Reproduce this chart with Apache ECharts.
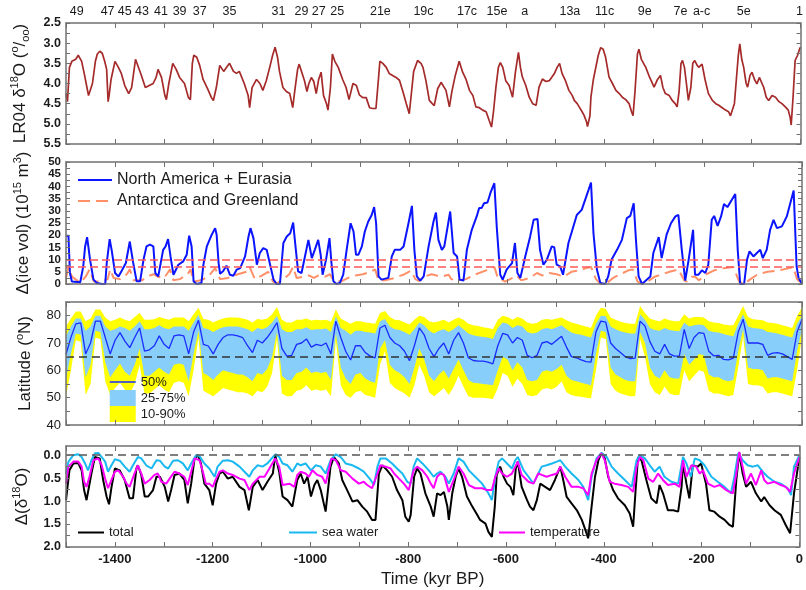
<!DOCTYPE html>
<html><head><meta charset="utf-8">
<script src="https://cdn.jsdelivr.net/npm/echarts@6/dist/echarts.min.js"></script>
<style>html,body{margin:0;padding:0;background:#fff}#c{width:806px;height:590px}</style>
</head><body><div id="c"></div>
<script>
// ---------- DATA ----------
// Marine isotope stage labels on the top axis, and their times (kyr, negative = BP)
const misLabels = ['49','47','45','43','41','39','37','35','31','29','27','25','21e','19c','17c','15e','a','13a','11c','9e','7e','a-c','5e','1'];
const misTimes  = [-1478,-1415,-1380,-1345,-1306,-1268,-1227,-1166,-1066,-1019,-984,-946,-858,-770,-681,-620,-563,-471,-400,-318,-245,-202,-116,-2];

// Panel 1: LR04 benthic d18O stack [time, permil]
const lr04 = [[-1500,4.25],[-1497,4.45],[-1493,3.6],[-1488,3.45],[-1480,3.4],[-1475,3.3],[-1468,3.45],[-1462,3.8],[-1458,4.05],[-1454,4.3],[-1450,4.3],[-1446,4.0],[-1440,3.45],[-1436,3.27],[-1431,3.2],[-1426,3.25],[-1421,3.45],[-1417,3.65],[-1414,4.45],[-1412,4.3],[-1408,3.9],[-1400,3.45],[-1393,3.6],[-1387,3.75],[-1380,4.05],[-1372,4.25],[-1366,4.1],[-1358,3.4],[-1354,3.4],[-1346,3.8],[-1338,4.1],[-1330,4.05],[-1322,4.0],[-1316,3.85],[-1312,3.65],[-1305,3.85],[-1298,4.3],[-1295,4.4],[-1290,4.0],[-1282,3.5],[-1275,3.65],[-1268,3.85],[-1258,4.0],[-1250,4.35],[-1246,4.4],[-1242,3.5],[-1239,3.3],[-1233,3.35],[-1227,3.55],[-1220,3.9],[-1210,4.15],[-1203,4.35],[-1199,4.42],[-1193,4.1],[-1186,3.55],[-1178,3.7],[-1172,3.6],[-1166,3.5],[-1158,3.7],[-1152,3.75],[-1146,3.7],[-1136,4.0],[-1128,4.3],[-1125,4.6],[-1120,4.1],[-1111,3.9],[-1104,4.0],[-1098,4.17],[-1091,3.93],[-1084,3.6],[-1078,3.3],[-1073,3.1],[-1068,3.35],[-1064,3.7],[-1057,4.1],[-1050,4.2],[-1043,4.25],[-1037,4.6],[-1032,4.1],[-1027,3.65],[-1024,3.52],[-1019,3.7],[-1013,3.93],[-1008,4.2],[-1004,4.0],[-999,3.85],[-994,3.95],[-989,4.25],[-984,3.9],[-979,3.72],[-974,4.3],[-968,4.5],[-965,4.66],[-960,4.1],[-956,3.27],[-951,3.45],[-944,3.6],[-935,3.9],[-928,4.1],[-922,4.4],[-914,4.0],[-907,4.05],[-901,4.28],[-894,4.35],[-887,4.35],[-880,4.6],[-874,4.62],[-867,4.62],[-862,3.9],[-859,3.45],[-853,3.5],[-846,3.6],[-840,3.75],[-833,3.8],[-826,3.85],[-819,3.92],[-812,4.2],[-805,4.5],[-799,4.75],[-795,4.79],[-790,3.7],[-782,3.43],[-775,3.5],[-771,3.6],[-765,3.93],[-758,4.42],[-752,4.5],[-748,4.55],[-741,4.13],[-734,3.97],[-731,3.93],[-724,4.17],[-717,4.58],[-712,4.2],[-705,3.8],[-697,3.45],[-690,3.72],[-683,3.9],[-676,4.17],[-669,4.3],[-663,4.58],[-656,4.6],[-649,4.66],[-642,4.7],[-636,4.91],[-631,5.08],[-627,4.7],[-622,4.09],[-617,3.6],[-613,3.48],[-608,3.6],[-602,3.93],[-595,4.05],[-588,4.34],[-582,3.7],[-576,3.23],[-572,3.6],[-568,3.84],[-561,4.05],[-554,4.34],[-547,4.5],[-540,4.54],[-534,4.09],[-527,3.89],[-520,3.95],[-513,3.93],[-503,3.76],[-497,3.6],[-492,3.5],[-487,3.75],[-480,3.93],[-473,4.17],[-466,4.3],[-462,4.42],[-456,4.5],[-452,4.58],[-446,4.7],[-442,4.79],[-437,4.95],[-435,5.07],[-430,4.8],[-428,4.34],[-423,3.9],[-418,3.6],[-413,3.3],[-408,3.11],[-403,3.15],[-398,3.35],[-391,3.84],[-384,4.0],[-377,4.17],[-370,4.25],[-364,4.34],[-357,4.4],[-350,4.5],[-345,4.7],[-342,4.8],[-338,4.2],[-333,3.27],[-330,3.15],[-325,3.4],[-316,3.6],[-308,3.85],[-299,4.09],[-292,3.9],[-286,3.8],[-281,4.1],[-276,4.25],[-268,4.3],[-262,4.42],[-256,4.5],[-252,4.58],[-248,4.2],[-244,3.5],[-241,3.43],[-237,3.6],[-233,4.0],[-229,4.42],[-224,4.1],[-220,3.5],[-216,3.43],[-211,3.55],[-208,3.6],[-201,3.52],[-195,3.9],[-188,4.25],[-180,4.42],[-173,4.5],[-167,4.54],[-160,4.6],[-153,4.66],[-147,4.7],[-143,4.8],[-140,4.83],[-135,4.5],[-131,3.9],[-127,3.3],[-124,3.02],[-120,3.4],[-116,3.6],[-111,4.0],[-108,4.09],[-103,3.8],[-99,3.72],[-94,3.9],[-89,4.01],[-84,3.85],[-80,3.85],[-75,4.1],[-70,4.34],[-65,4.42],[-58,4.3],[-51,4.34],[-44,4.45],[-38,4.5],[-31,4.58],[-25,4.66],[-21,4.85],[-19,5.03],[-15,4.3],[-11,3.43],[-6,3.3],[-2,3.15],[0,3.1]];

// Panel 2: ice volume anomalies (10^15 m^3) [time, value]
const iceNAEU = [[-1500,19.8],[-1495,19.8],[-1492,4.5],[-1488,1],[-1471,0.7],[-1467,0],[-1465,7],[-1461,15.4],[-1457,19.2],[-1451,10],[-1444,1.8],[-1437,0.4],[-1427,0],[-1420,0],[-1417,8.6],[-1411,18.4],[-1407,14],[-1400,4.5],[-1393,3.1],[-1387,5.2],[-1378,8.6],[-1370,17.4],[-1367,17],[-1363,8.6],[-1356,1.1],[-1349,1.1],[-1342,10],[-1336,15.4],[-1329,16.1],[-1322,15.4],[-1318,4.5],[-1312,3.1],[-1302,14],[-1297,15.4],[-1292,18.4],[-1287,11.3],[-1281,3.8],[-1271,7.9],[-1261,9.3],[-1254,12],[-1249,19.8],[-1244,15.4],[-1240,1.1],[-1234,0],[-1224,0.4],[-1220,7.9],[-1213,15.4],[-1203,20.2],[-1196,22.9],[-1193,20.2],[-1189,8.6],[-1186,4.2],[-1180,5.2],[-1173,7.5],[-1166,3.8],[-1159,3.4],[-1152,5.9],[-1145,6.5],[-1135,11.3],[-1128,19.5],[-1124,22.9],[-1118,18.8],[-1111,7.9],[-1105,12.7],[-1098,14.7],[-1091,14],[-1084,7.9],[-1077,1.8],[-1071,0],[-1064,0],[-1057,16.8],[-1050,19.5],[-1043,20.8],[-1037,25.2],[-1034,18.8],[-1027,5.2],[-1020,4.5],[-1013,11.3],[-1006,18.1],[-999,10.6],[-993,14],[-986,18.1],[-981,12],[-977,3.8],[-970,10],[-963,18.8],[-959,8.6],[-955,1.1],[-949,0],[-942,0.4],[-935,3.8],[-928,14],[-920,24.9],[-914,21.5],[-909,12],[-904,12],[-897,15.4],[-891,21.5],[-884,25.6],[-877,28.3],[-872,31.5],[-868,25],[-863,3.1],[-857,1.8],[-843,2.5],[-836,11.3],[-830,14],[-819,14],[-812,15.4],[-802,24.9],[-795,32],[-790,14],[-785,3.1],[-778,1.4],[-771,3.1],[-761,15.4],[-751,25.6],[-746,29.3],[-741,18.1],[-734,14],[-729,15.4],[-717,29.7],[-710,12.7],[-703,11.3],[-698,1.8],[-690,1.4],[-683,14],[-673,22.2],[-663,27.7],[-658,31.1],[-653,31.1],[-648,33.1],[-641,33.4],[-634,37.9],[-627,41.3],[-622,23],[-615,3.8],[-610,1.8],[-602,5.9],[-591,8.6],[-585,16.8],[-580,4.5],[-574,2.5],[-564,11.3],[-554,19.5],[-547,26.3],[-539,26.6],[-534,14],[-527,7.9],[-520,10],[-510,15.4],[-505,15.1],[-500,7.9],[-493,7.2],[-487,3.8],[-483,4.5],[-476,16.8],[-469,21.5],[-459,28.3],[-449,30.4],[-442,34.5],[-435,38.6],[-430,41.6],[-425,20.8],[-418,5.9],[-411,0.4],[-401,0],[-395,3.1],[-388,10],[-377,14],[-367,18.1],[-357,27],[-350,27.9],[-343,33.1],[-338,16.8],[-333,3.1],[-326,0],[-316,1.8],[-309,3.1],[-303,12.7],[-292,19.2],[-286,10.6],[-276,20.2],[-267,24.9],[-258,27.7],[-252,28.3],[-245,14],[-238,1.4],[-231,10],[-222,22.2],[-218,3.8],[-211,3.8],[-204,5.6],[-197,4.5],[-191,7.9],[-184,26.3],[-179,27.9],[-172,23.8],[-165,27.7],[-159,32.8],[-152,31.5],[-143,34.5],[-136,36.9],[-131,14],[-126,0],[-118,0],[-112,10],[-107,13.4],[-99,11.3],[-92,12.7],[-85,14],[-80,10.6],[-72,14],[-65,22.2],[-58,26.3],[-51,22.9],[-41,23.6],[-31,27.7],[-17,38.3],[-11,7.2],[-7,2.5],[0,0]];
const iceAISGrIS = [[-1500,2.5],[-1495,7],[-1488,3],[-1471,0.5],[-1460,3],[-1452,6],[-1443,1],[-1428,1],[-1415,2],[-1410,6],[-1403,2.5],[-1390,2],[-1376,4],[-1370,6],[-1362,1.5],[-1345,1.5],[-1335,3],[-1322,4],[-1313,3],[-1300,2.5],[-1293,4.5],[-1288,6],[-1281,1.5],[-1268,2],[-1252,4],[-1246,6],[-1240,1],[-1225,1.5],[-1210,3],[-1196,6.5],[-1186,2],[-1170,2.5],[-1150,4],[-1132,5],[-1126,7],[-1115,2],[-1100,3.5],[-1088,5],[-1078,1],[-1070,0.3],[-1060,1.5],[-1045,4],[-1037,7],[-1030,2.5],[-1015,3],[-1005,3.5],[-995,2.5],[-985,3.5],[-972,3],[-962,4],[-955,1.5],[-940,1],[-925,2.5],[-910,3.5],[-895,4],[-880,5],[-870,6],[-863,1.5],[-850,1.5],[-830,2.5],[-810,4],[-797,5.5],[-788,2],[-780,1.2],[-770,3],[-755,4],[-745,3.5],[-735,3],[-720,3.8],[-715,2],[-700,1.5],[-685,2],[-665,4],[-645,5.5],[-627,7],[-620,2.5],[-605,1],[-590,2.5],[-582,3.5],[-572,1.5],[-555,2.5],[-540,4.5],[-530,3.5],[-515,4.5],[-500,4],[-485,3],[-470,5],[-455,5.5],[-440,6.5],[-430,7],[-420,2],[-410,0],[-400,0],[-385,2.5],[-370,4],[-355,5.5],[-345,6],[-335,1],[-325,0],[-315,1],[-300,3],[-285,4],[-270,5],[-252,6],[-240,1.5],[-235,1],[-225,3],[-218,3],[-210,1.5],[-195,4],[-180,5.5],[-160,6.5],[-140,7],[-128,1],[-118,0],[-105,2],[-90,4],[-70,5],[-50,5.5],[-25,6.5],[-18,7],[-10,2],[0,0]];
const iceRefLines = [10, 7];

// Panel 3: latitude percentiles (deg N) on a 10-kyr grid from -1500 to 0
const latP50 = [65.9,72,77,77.4,66,70,78,78,72,66, 71,73.8,70.7,68.3,72,75.5,67,67.5,69,72.6, 69.5,68,72.6,73,72.6,66,74,78.3,69.5,68.9, 66,69.5,72,73,73,72.6,72,69,66.5,71, 70,72,74.5,77.5,68,65.2,65.5,69.5,70,71.5, 68.5,69.5,69,70,66,78,72,67,63.8,69, 69,66.5,65.2,64.6,75.5,76.5,72,70,69,67, 63.5,69,75.5,73,68,65,68,70,66,71, 73.8,70,64.6,63.6,63.4,63.4,63,62.4,69,73.5, 73,70,72,71,65.5,64.6,65.5,70,70.5,69.5, 71,72.5,68.5,65,64.6,63.8,63.2,63,74,78, 77.6,70,68,66.5,65,64.3,64.5,78,76.2,70.5, 67,66,69.5,66,65.2,65.2,75,68,72,73.8, 73.5,67,65.3,65.5,64,63.8,64.5,74,78.7,70, 70,70,69.5,65.5,66.3,66.5,66,65,64,74, 78.7];
const latP90 = [76,79,81.5,81.5,78,79,82.3,82.3,79.3,78, 78.5,79.3,78.5,78,79.5,81,78.5,78.5,78.7,79.5, 79,78.5,79.3,79.3,79.3,78,80.5,82.9,78.8,78.5, 77.5,78.3,79,79.3,79.3,79.3,79,78.5,77.5,78.8, 78.5,79,80.5,83.2,78.5,77.5,77.5,78.5,78.5,79, 78.2,78.5,78.3,78.5,77.8,82.3,79,78,77,78, 78,77.5,77.3,77,81,81.7,79.5,78.5,78.3,77.5, 76.8,78.5,80,79.5,78,77.5,78,78.5,77.5,78.5, 79.3,78.5,77,76.5,76.2,75.8,75.5,75,78.5,80, 79.5,78.5,79.5,79,77.5,77,77.3,78.5,78.8,78.5, 79,79.3,78.3,77.5,77,76.5,76,75.5,80,82.9, 82.5,79.3,78.5,77.8,77.3,77,77,83.5,81,79, 78.3,78,79,78.3,78,78,80.5,79,79.5,79.5, 79.3,78,77.5,77.3,76.8,76.5,76.5,80,83.5,79.5, 78.7,78.5,78.3,77.5,77.3,77,76.5,76,75.5,80, 83];
const latP75 = [72.5,76,79,79,74.5,76,80,80,76,74.5, 75,76,75.5,74.5,76,78,75,75,75.5,76.5, 75.5,75,76,76,76,74.5,77.5,80.3,75.5,75, 74,75,75.8,76,76,76,75.6,75,74,75.5, 75,75.8,77.5,80,75,74,74,75,75,75.8, 74.8,75,75,75.3,74,79.8,75.5,74.5,73,74.5, 74.5,74,73.8,73.5,78,78.8,76,75,74.8,74, 73,75,77.5,76.5,74.5,73.5,74.5,75,74,75, 76.5,75,73.5,72.8,72.5,72.2,72,71.5,75.5,77.5, 77,75.5,76.5,76,74,73.5,73.8,75,75.5,75, 75.8,76.5,75,73.8,73.3,73,72.5,72,77,80, 79.8,76,75,74.3,73.8,73.5,73.5,80.5,78.5,75.5, 74.8,74.5,75.5,74.8,74.5,74.3,77.5,76,76.5,76.8, 76.5,74.5,74,73.8,73.3,72.8,72.5,77,80.5,76, 75.5,75.3,75,74,73.8,73.5,73,72.5,72,77, 80];
const latP25 = [57,66,73.5,73,57.5,62,74.5,74,63,57.5, 60,62.5,59.5,58,62,68,58,58,59.5,61, 59.5,58.5,62,62.5,62,56,66,74.5,59,58, 56.5,58.5,60,59.5,59,58.5,58.5,57.5,56,59, 58.5,60.5,65,74,58,56.5,56.5,59,59.5,61, 59,59.5,59,59.5,56.5,73.5,61,57,55,58.5, 59,57,56,55.5,68,71,62,60,59,57.5, 55,61,68,64,58,56,58.5,60,57,60.5, 64,60,56.5,55.5,55.3,55,54.8,54.5,60,65, 64,60,63,61,56.5,56,56.5,59.5,60,59.5, 60.5,62,58,56.5,56,55.5,55,54.5,66,74.5, 74,61,58.5,57.5,56.5,56,56,74,70,61, 58,57,60,57.5,57,57,66,62,64,66, 65.5,58.5,57.5,57.5,56.5,56,56.5,67,75,61, 60.5,60.5,60,57,57.5,57.5,57,56.5,56,67, 75];
const latP10 = [50.5,60,71,70.5,51,55,72,71.5,56,51, 53.5,55.5,53,51.5,55,62,51.5,51.5,53,54.5, 53,52,55.5,56,55.5,50.5,60,72,52.5,51.5, 50.5,52,53.5,53,52.5,52,52,51.5,50.5,52.5, 52,54,59,71.5,51.5,50.5,50.5,52.5,53,54.5, 52.5,53,52.5,53,50.5,71,54.5,51,50,52, 52.5,51,50.5,50,62,67,55.5,53.5,52.5,51.5, 50,54.5,62,58,52,50.5,52,53.5,51,54, 58,54,50.5,50,50,50,49.8,49.5,53.5,59, 58,54,57,55,51,50.5,51,53,53.5,53, 54,56,52,51,50.5,50.3,50,49.8,60,72, 71.5,55,52.5,51.5,51,50.5,50.5,71.5,65,55, 52,51,54,51.5,51,51,60,56,58,60, 59.5,52.5,51.5,51.5,51,50.5,51,61,72.5,55, 54.5,54.5,54,51.5,52,52,51.5,51,50.5,60, 72.5];
const latRefLine = 65;

// Panel 4: d18O anomalies (permil) [time, value]
const d18Total = [[-1500,0.98],[-1497,1.01],[-1493,0.33],[-1485,0.18],[-1475,0.17],[-1468,0.33],[-1463,0.76],[-1458,0.98],[-1454,1.01],[-1448,0.4],[-1441,0.04],[-1437,0.02],[-1431,0.07],[-1424,0.54],[-1417,0.9],[-1412,1.07],[-1407,0.7],[-1400,0.29],[-1390,0.33],[-1380,0.54],[-1370,0.94],[-1363,0.94],[-1356,0.29],[-1353,0.22],[-1346,0.43],[-1339,0.9],[-1332,0.9],[-1322,0.76],[-1315,0.47],[-1308,0.47],[-1298,0.69],[-1291,1.01],[-1285,0.76],[-1278,0.43],[-1268,0.4],[-1258,0.54],[-1251,1.05],[-1244,0.62],[-1237,0.07],[-1230,0.0],[-1224,0.18],[-1217,0.62],[-1207,0.76],[-1200,1.09],[-1193,0.62],[-1186,0.4],[-1179,0.36],[-1169,0.51],[-1159,0.47],[-1145,0.69],[-1135,0.76],[-1126,1.2],[-1118,0.69],[-1108,0.54],[-1098,0.76],[-1088,0.58],[-1077,0.4],[-1072,0.0],[-1064,0.36],[-1057,0.9],[-1047,0.98],[-1037,1.12],[-1027,0.54],[-1020,0.4],[-1013,0.62],[-1006,0.47],[-999,0.9],[-992,0.65],[-986,0.54],[-979,0.76],[-969,1.23],[-959,0.25],[-952,0.04],[-942,0.18],[-935,0.54],[-925,0.76],[-914,1.01],[-904,0.98],[-894,1.12],[-884,1.23],[-874,1.41],[-867,1.41],[-860,0.4],[-853,0.22],[-843,0.33],[-833,0.47],[-823,0.76],[-812,0.98],[-806,1.34],[-799,1.45],[-795,1.3],[-788,0.47],[-782,0.29],[-775,0.4],[-765,0.83],[-754,1.12],[-748,1.34],[-741,0.83],[-734,0.87],[-727,0.8],[-720,1.12],[-717,1.41],[-710,0.83],[-703,0.47],[-697,0.29],[-690,0.47],[-680,0.9],[-669,1.12],[-659,1.3],[-653,1.41],[-642,1.49],[-636,1.67],[-629,1.78],[-623,1.12],[-619,0.43],[-612,0.25],[-605,0.47],[-598,0.62],[-591,0.69],[-585,0.87],[-580,0.29],[-576,0.14],[-568,0.69],[-557,0.98],[-551,1.12],[-544,1.2],[-537,0.98],[-530,0.62],[-520,0.69],[-510,0.76],[-500,0.54],[-489,0.25],[-483,0.54],[-476,0.91],[-466,1.05],[-455,1.2],[-445,1.41],[-439,1.59],[-432,1.81],[-425,1.12],[-418,0.47],[-411,0.11],[-405,-0.04],[-398,0.07],[-391,0.47],[-381,0.76],[-371,0.94],[-357,1.09],[-347,1.27],[-340,1.56],[-335,0.76],[-330,0.04],[-323,0.11],[-313,0.54],[-303,0.94],[-292,1.05],[-286,0.65],[-279,0.83],[-269,1.2],[-258,1.2],[-248,1.23],[-241,0.69],[-238,0.18],[-231,0.62],[-225,0.94],[-218,0.22],[-208,0.25],[-201,0.18],[-191,0.62],[-184,1.2],[-174,1.23],[-163,1.34],[-153,1.41],[-143,1.52],[-136,1.56],[-129,0.54],[-123,-0.05],[-116,0.4],[-109,0.69],[-99,0.58],[-89,0.83],[-78,1.01],[-72,0.91],[-61,1.09],[-51,1.2],[-38,1.3],[-28,1.52],[-19,1.7],[-11,0.83],[0,0.04]];
const d18SeaWater = [[-1500,0.4],[-1495,0.14],[-1485,0.0],[-1475,-0.02],[-1468,0.04],[-1461,0.18],[-1455,0.33],[-1448,0.11],[-1441,-0.04],[-1434,-0.05],[-1427,0.04],[-1420,0.14],[-1414,0.36],[-1407,0.22],[-1400,0.09],[-1390,0.12],[-1380,0.25],[-1370,0.36],[-1363,0.22],[-1353,0.04],[-1346,0.07],[-1336,0.22],[-1325,0.29],[-1315,0.11],[-1308,0.12],[-1298,0.25],[-1291,0.29],[-1281,0.12],[-1271,0.11],[-1261,0.18],[-1251,0.33],[-1244,0.18],[-1234,0.0],[-1227,0.02],[-1217,0.18],[-1207,0.29],[-1196,0.47],[-1190,0.25],[-1179,0.12],[-1169,0.11],[-1159,0.14],[-1145,0.25],[-1135,0.36],[-1125,0.47],[-1118,0.33],[-1108,0.22],[-1098,0.25],[-1088,0.18],[-1077,0.04],[-1071,-0.02],[-1064,0.04],[-1057,0.18],[-1047,0.22],[-1037,0.36],[-1027,0.18],[-1020,0.22],[-1010,0.18],[-999,0.33],[-989,0.22],[-979,0.25],[-969,0.4],[-959,0.11],[-948,-0.02],[-938,0.04],[-928,0.18],[-914,0.22],[-901,0.29],[-891,0.36],[-877,0.54],[-870,0.65],[-863,0.25],[-857,0.07],[-846,0.07],[-833,0.18],[-823,0.29],[-812,0.4],[-802,0.58],[-795,0.62],[-789,0.25],[-782,0.07],[-771,0.18],[-758,0.33],[-748,0.47],[-741,0.4],[-734,0.36],[-724,0.47],[-717,0.62],[-707,0.4],[-697,0.07],[-687,0.14],[-676,0.33],[-663,0.47],[-649,0.62],[-636,0.83],[-629,0.98],[-622,0.47],[-615,0.14],[-608,0.07],[-598,0.18],[-588,0.29],[-581,0.11],[-576,0.04],[-564,0.33],[-554,0.47],[-544,0.62],[-534,0.4],[-527,0.25],[-517,0.22],[-506,0.18],[-496,0.14],[-489,0.11],[-479,0.25],[-466,0.4],[-452,0.54],[-442,0.69],[-432,0.98],[-425,0.47],[-415,0.07],[-405,-0.05],[-394,0.04],[-384,0.25],[-371,0.4],[-357,0.54],[-343,0.69],[-333,0.11],[-326,0.0],[-316,0.07],[-306,0.22],[-296,0.36],[-286,0.25],[-276,0.47],[-262,0.58],[-248,0.62],[-238,0.04],[-231,0.18],[-222,0.47],[-214,0.07],[-204,0.11],[-194,0.22],[-180,0.47],[-167,0.58],[-153,0.69],[-140,0.83],[-133,0.47],[-125,-0.05],[-116,0.11],[-106,0.22],[-95,0.25],[-85,0.22],[-75,0.36],[-65,0.47],[-51,0.58],[-38,0.62],[-24,0.72],[-17,0.87],[-11,0.25],[0,0.0]];
const d18Temp = [[-1500,0.62],[-1495,0.25],[-1485,0.14],[-1475,0.14],[-1468,0.25],[-1463,0.58],[-1458,0.69],[-1452,0.47],[-1444,0.11],[-1434,0.07],[-1427,0.22],[-1420,0.51],[-1414,0.72],[-1407,0.54],[-1400,0.36],[-1393,0.33],[-1383,0.47],[-1376,0.62],[-1370,0.69],[-1360,0.4],[-1353,0.22],[-1346,0.4],[-1339,0.62],[-1329,0.54],[-1319,0.43],[-1312,0.4],[-1305,0.58],[-1295,0.62],[-1288,0.51],[-1278,0.36],[-1268,0.4],[-1258,0.47],[-1251,0.65],[-1244,0.36],[-1237,0.07],[-1227,0.11],[-1220,0.36],[-1214,0.62],[-1207,0.62],[-1200,0.69],[-1193,0.51],[-1186,0.36],[-1179,0.33],[-1169,0.4],[-1159,0.43],[-1145,0.51],[-1135,0.54],[-1125,0.76],[-1118,0.62],[-1104,0.47],[-1094,0.47],[-1084,0.29],[-1072,0.07],[-1064,0.25],[-1057,0.65],[-1043,0.62],[-1033,0.69],[-1027,0.43],[-1020,0.36],[-1010,0.4],[-1003,0.47],[-996,0.33],[-986,0.43],[-976,0.47],[-969,0.62],[-957,0.07],[-948,0.11],[-938,0.33],[-928,0.36],[-914,0.51],[-901,0.62],[-891,0.58],[-884,0.65],[-874,0.72],[-863,0.4],[-857,0.22],[-846,0.25],[-836,0.29],[-829,0.4],[-819,0.51],[-809,0.62],[-799,0.76],[-789,0.33],[-782,0.25],[-771,0.33],[-761,0.47],[-754,0.62],[-748,0.72],[-741,0.47],[-734,0.4],[-727,0.43],[-720,0.69],[-717,0.8],[-707,0.54],[-697,0.25],[-687,0.4],[-676,0.65],[-663,0.72],[-649,0.72],[-639,0.76],[-629,0.76],[-622,0.47],[-615,0.29],[-608,0.4],[-598,0.47],[-588,0.4],[-581,0.25],[-576,0.14],[-568,0.43],[-554,0.58],[-544,0.62],[-534,0.4],[-527,0.43],[-517,0.47],[-506,0.43],[-496,0.4],[-489,0.25],[-479,0.47],[-466,0.69],[-452,0.69],[-442,0.72],[-432,0.87],[-425,0.4],[-415,0.11],[-405,-0.04],[-398,0.11],[-388,0.58],[-378,0.62],[-364,0.65],[-350,0.69],[-340,0.8],[-333,0.25],[-326,0.04],[-319,0.11],[-309,0.51],[-299,0.58],[-289,0.4],[-279,0.54],[-269,0.65],[-255,0.62],[-245,0.69],[-238,0.11],[-231,0.47],[-221,0.22],[-211,0.25],[-204,0.4],[-197,0.33],[-187,0.62],[-174,0.69],[-163,0.65],[-150,0.76],[-136,0.83],[-129,0.4],[-123,-0.07],[-116,0.25],[-109,0.62],[-99,0.4],[-89,0.65],[-78,0.33],[-72,0.54],[-65,0.62],[-51,0.58],[-38,0.65],[-28,0.69],[-19,0.8],[-11,0.4],[0,0.04]];
const d18RefLine = 0;

// Axis tick label positions
const timeLabels = [-1400,-1200,-1000,-800,-600,-400,-200,0];

// ---------- CHART ----------
const FF = '"Liberation Sans", Arial, Helvetica, sans-serif';
const FRAME = '#707070';
const TXT = '#1a1a1a';
function steps(a, b, s) { const r = []; for (let k = 0; a + k * s <= b + 1e-9; k++) r.push(Math.round((a + k * s) * 1000) / 1000); return r; }
const latTime = steps(-1500, 0, 10);
const zipLat = v => latTime.map((t, i) => [t, v[i]]);

const grids = [
  {left: 66, width: 736, top: 23, height: 121},
  {left: 66, width: 736, top: 162, height: 122},
  {left: 66, width: 736, top: 302, height: 123},
  {left: 66, width: 736, top: 446, height: 101}
];

const lineFrame = {show: true, onZero: false, lineStyle: {color: FRAME, width: 1.5}};
const xTicks = steps(-1500, 0, 100);

const xAxes = [];
grids.forEach((g, gi) => {
  const base = {type: 'value', gridIndex: gi, min: -1500, max: 0, z: 10, splitLine: {show: false},
    axisLine: lineFrame, axisTick: {show: true, inside: true, length: 5, customValues: xTicks, lineStyle: {color: FRAME, width: 1}}};
  const bottom = Object.assign({}, base, {position: 'bottom'});
  if (gi === 3) {
    bottom.axisLabel = {customValues: timeLabels, formatter: v => String(v), fontSize: 13, fontWeight: 'bold', color: TXT, fontFamily: FF, margin: 6};
    bottom.name = 'Time (kyr BP)';
    bottom.nameLocation = 'middle';
    bottom.nameGap = 24;
    bottom.nameTextStyle = {fontSize: 17, color: TXT, fontFamily: FF};
  } else {
    bottom.axisLabel = {show: false};
  }
  const top = Object.assign({}, base, {position: 'top'});
  if (gi === 0) {
    top.axisLabel = {customValues: misTimes, formatter: v => misLabels[misTimes.indexOf(v)], fontSize: 12.5, color: TXT, fontFamily: FF, margin: 5};
  } else {
    top.axisLabel = {show: false};
  }
  xAxes.push(bottom, top);
});

const richBase = {
  n: {fontSize: 17, fontFamily: FF, color: TXT, lineHeight: 22},
  s: {fontSize: 11, fontFamily: FF, color: TXT, lineHeight: 12, verticalAlign: 'top'},
  b: {fontSize: 11, fontFamily: FF, color: TXT, lineHeight: 12, verticalAlign: 'bottom'}
};
const yCfg = [
  {min: 2.5, max: 5.5, inverse: true, labels: steps(2.5, 5.5, 0.5), ticks: steps(2.5, 5.5, 0.25), fmt: v => v.toFixed(1), fs: 12.5, fw: 'bold',
   name: '{n|LR04 δ}{s|18}{n|O (}{s|o}{n|/}{b|oo}{n|)}', gap: 35},
  {min: 0, max: 50, inverse: false, labels: steps(0, 50, 5), ticks: steps(0, 50, 2.5), fmt: v => String(v), fs: 11.5, fw: 'bold',
   name: '{n|Δ(ice vol) (10}{s|15}{n| m}{s|3}{n|)}', gap: 32},
  {min: 40, max: 85, inverse: false, labels: steps(40, 80, 10), ticks: steps(40, 85, 5), fmt: v => String(v), fs: 13, fw: 'normal',
   name: '{n|Latitude (}{s|o}{n|N)}', gap: 30},
  {min: -0.2, max: 2.0, inverse: true, labels: steps(0, 2, 0.5), ticks: steps(0, 2, 0.25), fmt: v => v.toFixed(1), fs: 12.5, fw: 'bold',
   name: '{n|Δ(δ}{s|18}{n|O)}', gap: 33}
];
const yAxes = [];
yCfg.forEach((c, gi) => {
  const base = {type: 'value', gridIndex: gi, min: c.min, max: c.max, inverse: c.inverse, z: 10, splitLine: {show: false},
    axisLine: lineFrame, axisTick: {show: true, inside: true, length: 4, customValues: c.ticks, lineStyle: {color: FRAME, width: 1}}};
  const left = Object.assign({}, base, {position: 'left',
    axisLabel: {customValues: c.labels, formatter: c.fmt, fontSize: c.fs, fontWeight: c.fw, color: TXT, fontFamily: FF, margin: 5},
    name: c.name, nameLocation: 'middle', nameRotate: 90, nameGap: c.gap,
    nameTextStyle: {fontSize: 17, fontFamily: FF, color: TXT, rich: richBase}});
  const right = Object.assign({}, base, {position: 'right', axisLabel: {show: false}});
  yAxes.push(left, right);
});

function lineSeries(name, gi, data, color, width, extra) {
  return Object.assign({type: 'line', name, xAxisIndex: gi * 2, yAxisIndex: gi * 2, data, symbol: 'none', showSymbol: false,
    lineStyle: {color, width}, itemStyle: {color}, animation: false, clip: true}, extra || {});
}
function bandSeries(name, data, color) {
  return {type: 'line', name, xAxisIndex: 4, yAxisIndex: 4, data, symbol: 'none', showSymbol: false,
    lineStyle: {width: 0, color}, itemStyle: {color}, areaStyle: {color, opacity: 1, origin: 'start'}, animation: false};
}
function refLine(vals, color, dash) {
  return {symbol: ['none', 'none'], silent: true, animation: false, label: {show: false},
    lineStyle: {color, type: dash, width: 1.5}, data: vals.map(v => ({yAxis: v}))};
}

const series = [
  lineSeries('LR04', 0, lr04, '#a52a2a', 1.7),
  lineSeries('Antarctica and Greenland', 1, iceAISGrIS, '#ff9068', 2,
    {lineStyle: {color: '#ff9068', width: 2, type: [12, 6]}, markLine: refLine(iceRefLines, '#ff5a5a', [8, 4])}),
  lineSeries('North America + Eurasia', 1, iceNAEU, '#0a14ff', 2),
  bandSeries('10-90%', zipLat(latP90), '#ffff00'),
  bandSeries('25-75%', zipLat(latP75), '#87cefa'),
  bandSeries('q25', zipLat(latP25), '#ffff00'),
  bandSeries('q10', zipLat(latP10), '#ffffff'),
  lineSeries('50%', 2, zipLat(latP50), '#1a2bff', 1.3, {markLine: refLine([latRefLine], '#333', [8, 5])}),
  lineSeries('total', 3, d18Total, '#000000', 2, {markLine: refLine([d18RefLine], '#555', [8, 5])}),
  lineSeries('sea water', 3, d18SeaWater, '#1ab8f0', 2),
  lineSeries('temperature', 3, d18Temp, '#ff00ff', 2)
];

const legText = {fontFamily: FF, color: TXT};
const hideSym = {opacity: 0};
const option = {
  animation: false,
  backgroundColor: '#ffffff',
  grid: grids,
  xAxis: xAxes,
  yAxis: yAxes,
  legend: [
    {data: ['North America + Eurasia', 'Antarctica and Greenland'], left: 72, top: 166, orient: 'vertical', itemStyle: hideSym,
     itemWidth: 34, itemHeight: 14, itemGap: 3, selectedMode: false, textStyle: Object.assign({fontSize: 16, lineHeight: 18}, legText)},
    {data: [{name: '50%', lineStyle: {color: '#1a2bff', width: 1.5}}, {name: '25-75%', icon: 'rect', itemStyle: {color: '#87cefa', opacity: 1}}, {name: '10-90%', icon: 'rect', itemStyle: {color: '#ffff00', opacity: 1}}],
     left: 104, top: 369, orient: 'vertical', itemWidth: 26, itemHeight: 16, itemGap: 0, selectedMode: false, itemStyle: hideSym,
     textStyle: Object.assign({fontSize: 13, lineHeight: 16}, legText)},
    {data: ['total'], left: 72, top: 521, itemWidth: 26, itemHeight: 14, selectedMode: false, itemStyle: hideSym, textStyle: Object.assign({fontSize: 13}, legText)},
    {data: ['sea water'], left: 283, top: 521, itemWidth: 28, itemHeight: 14, selectedMode: false, itemStyle: hideSym, textStyle: Object.assign({fontSize: 13}, legText)},
    {data: ['temperature'], left: 493, top: 521, itemWidth: 26, itemHeight: 14, selectedMode: false, itemStyle: hideSym, textStyle: Object.assign({fontSize: 13}, legText)}
  ],
  series
};
const chart = echarts.init(document.getElementById('c'), null, {renderer: 'canvas'});
chart.setOption(option);
</script>
</body></html>
